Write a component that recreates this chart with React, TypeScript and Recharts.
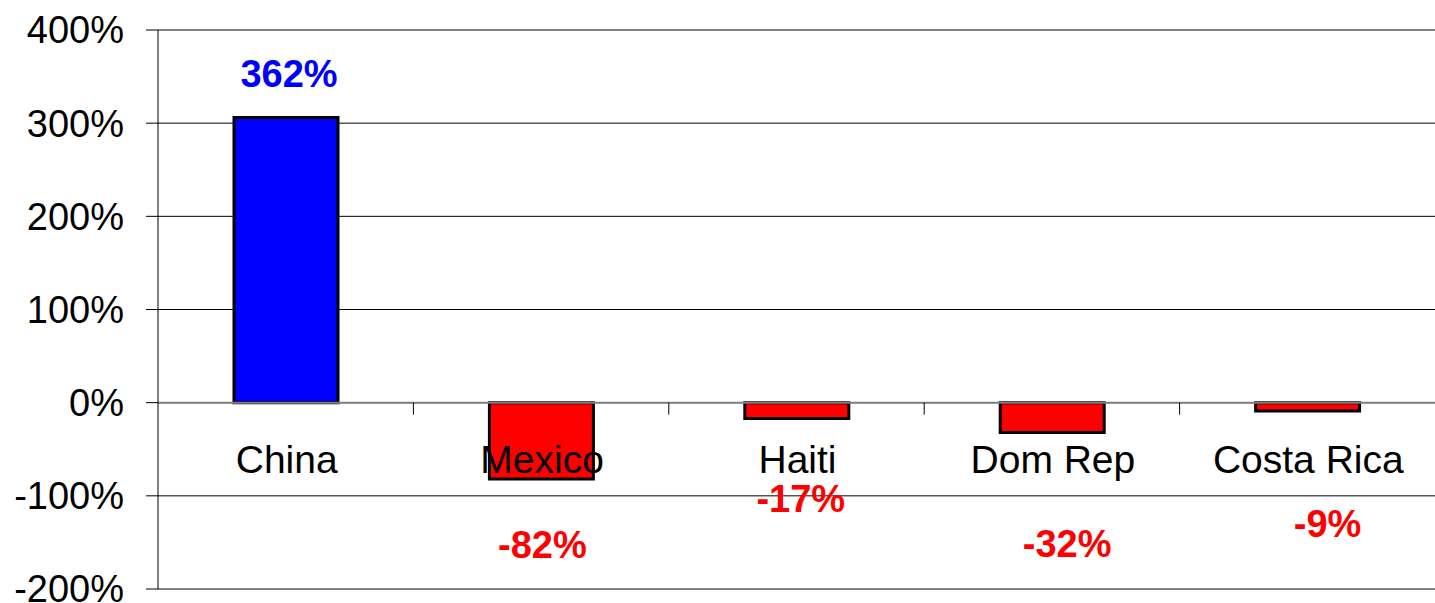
import React from "react";
import { BarChart, Bar, Cell, XAxis, YAxis, CartesianGrid, ReferenceLine, LabelList } from "recharts";

// --- data ---
const countries = ["China", "Mexico", "Haiti", "Dom Rep", "Costa Rica"];
const changes = [306, -82, -17, -32, -9];
const valueLabels = ["362%", "-82%", "-17%", "-32%", "-9%"];
const yTicks = [-200, -100, 0, 100, 200, 300, 400];

// --- layout (label nudges as placed in the original) ---
const LABEL_DX = [3, 1, 4, 15, 20];
const LABEL_DY = [-31, 79, 93, 125, 126];

const W = 1435;
const H = 603;
const TOP = 30;
const BOTTOM = 14;
const LEFT = 158;
const PLOT_H = H - TOP - BOTTOM;
const ZERO_Y = TOP + (400 / 600) * PLOT_H;
const BAND = (W - LEFT) / countries.length;
const FONT = "'Liberation Sans', Arial, sans-serif";

const data = countries.map((name, i) => ({ name, value: changes[i], label: valueLabels[i] }));

const colorFor = (v: number) => (v >= 0 ? "#0000FF" : "#FF0000");

// category labels sit just under the zero line, with tick marks between categories
const CategoryTick = ({ x, index, payload }: any) => (
  <g>
    {index > 0 && (
      <line x1={x - BAND / 2} x2={x - BAND / 2} y1={ZERO_Y} y2={ZERO_Y + 12} stroke="#000" strokeWidth={1} />
    )}
    <text x={x + 1} y={ZERO_Y + 70} textAnchor="middle" fontFamily={FONT} fontSize={39} fill="#000">
      {payload.value}
    </text>
  </g>
);

const ValueLabel = (props: any) => {
  const { x, y, width, height, index } = props;
  const top = Math.min(y, y + height);
  const bottom = Math.max(y, y + height);
  const v = changes[index];
  const baseY = (v >= 0 ? top : bottom) + LABEL_DY[index];
  return (
    <text
      x={x + width / 2 + LABEL_DX[index]}
      y={baseY}
      textAnchor="middle"
      fontFamily={FONT}
      fontWeight="bold"
      fontSize={38}
      fill={colorFor(v)}
    >
      {valueLabels[index]}
    </text>
  );
};

export default function App() {
  return (
    <div style={{ position: "absolute", left: 0, top: 0, width: W, height: H, background: "#fff" }}>
      <BarChart
        width={W}
        height={H}
        data={data}
        margin={{ top: TOP, right: 0, bottom: 0, left: 0 }}
        barSize={104}
      >
        <CartesianGrid vertical={false} stroke="#000" strokeWidth={1} />
        <XAxis
          dataKey="name"
          axisLine={false}
          tickLine={false}
          height={BOTTOM}
          interval={0}
          tick={<CategoryTick />}
        />
        <YAxis
          type="number"
          domain={[-200, 400]}
          ticks={yTicks}
          width={LEFT}
          interval={0}
          tickFormatter={(v) => `${v}%`}
          axisLine={{ stroke: "#000", strokeWidth: 1 }}
          tickLine={{ stroke: "#000", strokeWidth: 1 }}
          tickSize={12}
          tickMargin={22}
          tick={{ fontFamily: FONT, fontSize: 38, fill: "#000" }}
        />
        <ReferenceLine y={0} stroke="#808080" strokeWidth={2} />
        <Bar dataKey="value" stroke="#000" strokeWidth={3} isAnimationActive={false}>
          {data.map((d, i) => (
            <Cell key={i} fill={colorFor(d.value)} />
          ))}
          <LabelList dataKey="label" content={<ValueLabel />} />
        </Bar>
      </BarChart>
    </div>
  );
}
